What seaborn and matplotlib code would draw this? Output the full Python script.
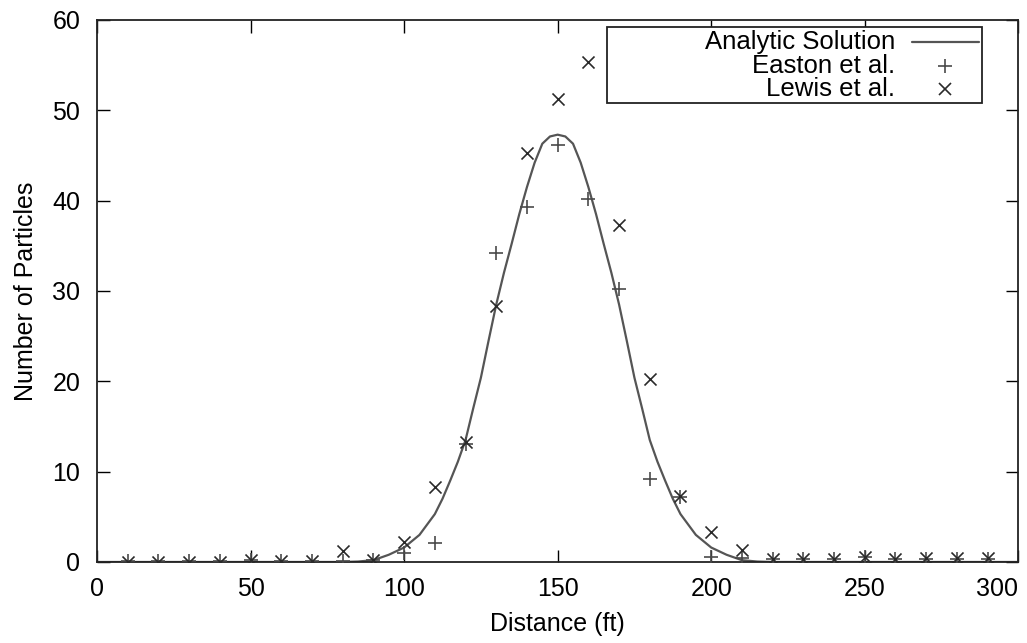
import numpy as np
import pandas as pd
import matplotlib
matplotlib.use("Agg")
import matplotlib.pyplot as plt
from matplotlib.lines import Line2D
from matplotlib.patches import Rectangle
import seaborn as sns

# ---- data ----
dist_pts = [10, 20, 30, 40, 50, 60, 70, 80, 90, 100, 110, 120, 130, 140, 150,
            160, 170, 180, 190, 200, 210, 220, 230, 240, 250, 260, 270, 280, 290]
easton = [0.1, 0.1, 0.1, 0.1, 0.2, 0.1, 0.1, 0.1, 0.2, 1.0, 2.1, 13.1, 34.2, 39.3, 46.2,
          40.2, 30.2, 9.2, 7.2, 0.5, 0.4, 0.3, 0.3, 0.3, 0.5, 0.3, 0.3, 0.3, 0.3]
lewis = [0.0, 0.0, 0.0, 0.0, 0.2, 0.1, 0.1, 1.2, 0.2, 2.2, 8.3, 13.3, 28.3, 45.3, 51.3,
         55.3, 37.3, 20.3, 7.3, 3.3, 1.3, 0.3, 0.3, 0.3, 0.5, 0.3, 0.4, 0.4, 0.4]

curve_x = [0, 50, 80, 85, 90, 95, 100, 105, 110, 112.5, 115, 117.5, 120, 122.5, 125, 127.5,
           130, 132.5, 135, 137.5, 140, 142.5, 145, 147.5, 150, 152.5, 155, 157.5, 160,
           162.5, 165, 167.5, 170, 172.5, 175, 177.5, 180, 182.5, 185, 187.5, 190, 195,
           200, 205, 210, 215, 220, 250, 300]
curve_y = [0.0, 0.0, 0.0, 0.05, 0.2, 0.8, 1.6, 3.0, 5.3, 7.0, 9.0, 11.1, 13.5, 17.0, 20.4,
           24.5, 28.5, 32.0, 35.2, 38.5, 41.5, 44.2, 46.3, 47.1, 47.3, 47.1, 46.3, 44.2,
           41.5, 38.5, 35.2, 32.0, 28.5, 24.5, 20.4, 17.0, 13.5, 11.1, 9.0, 7.0, 5.3, 3.0,
           1.6, 0.8, 0.2, 0.05, 0.0, 0.0, 0.0]

x_ticks = [0, 50, 100, 150, 200, 250, 300]
y_ticks = [0, 10, 20, 30, 40, 50, 60]
legend_labels = ["Analytic Solution", "Easton et al.", "Lewis et al."]

sns.set_theme(style="ticks")
plt.rcParams["font.family"] = ["Liberation Sans", "DejaVu Sans"]

fig = plt.figure(figsize=(10.27, 6.43), dpi=100)
ax = fig.add_axes([0.0945, 0.126, 0.897, 0.843])

curve_col = "#555555"
plus_col = "#4a4a4a"
x_col = "#2a2a2a"

curve_df = pd.DataFrame({"x": curve_x, "y": curve_y})
sns.lineplot(data=curve_df, x="x", y="y", ax=ax, color=curve_col, linewidth=1.6,
             sort=False, legend=False)
sns.scatterplot(x=dist_pts, y=easton, ax=ax, marker="+", s=100, color=plus_col,
                linewidth=1.2, zorder=3, legend=False)
sns.scatterplot(x=dist_pts, y=lewis, ax=ax, marker="x", s=75, color=x_col,
                linewidth=1.2, zorder=3, legend=False)

ax.set_xlim(0, 300)
ax.set_ylim(0, 60)
ax.set_xticks(x_ticks)
ax.set_yticks(y_ticks)
ax.set_xticklabels([str(v) for v in x_ticks])
ax.tick_params(direction="in", length=9, width=1.0, top=True, right=True,
               labelsize=18, colors="black")
ax.tick_params(axis="x", pad=11)
ax.tick_params(axis="y", pad=12)
xl = ax.get_xticklabels()
xl[-1].set_ha("right")
for s in ax.spines.values():
    s.set_linewidth(1.3)
    s.set_color("#222222")
ax.set_xlabel("Distance (ft)", fontsize=18, labelpad=8, color="black")
ax.set_ylabel("Number of Particles", fontsize=18, labelpad=10, color="black")

# ---- legend box drawn in axes coordinates (gnuplot style: text right, key sample left->right) ----
T = ax.transAxes
ax.add_patch(Rectangle((0.554, 0.847), 0.407, 0.140, transform=T, facecolor="white",
                       edgecolor="#222222", linewidth=1.3, zorder=5))
rows_y = [0.960, 0.915, 0.872]
for lab, yy in zip(legend_labels, rows_y):
    ax.text(0.866, yy, lab, transform=T, ha="right", va="center", fontsize=18.5,
            color="black", zorder=6)
ax.add_line(Line2D([0.885, 0.957], [rows_y[0], rows_y[0]], transform=T, color=curve_col,
                   linewidth=1.6, zorder=6))
ax.add_line(Line2D([0.921], [rows_y[1]], transform=T, marker="+", markersize=10,
                   markeredgewidth=1.2, color=plus_col, linestyle="none", zorder=6))
ax.add_line(Line2D([0.921], [rows_y[2]], transform=T, marker="x", markersize=8,
                   markeredgewidth=1.2, color=x_col, linestyle="none", zorder=6))

fig.savefig("out.png", dpi=100, facecolor="white")
